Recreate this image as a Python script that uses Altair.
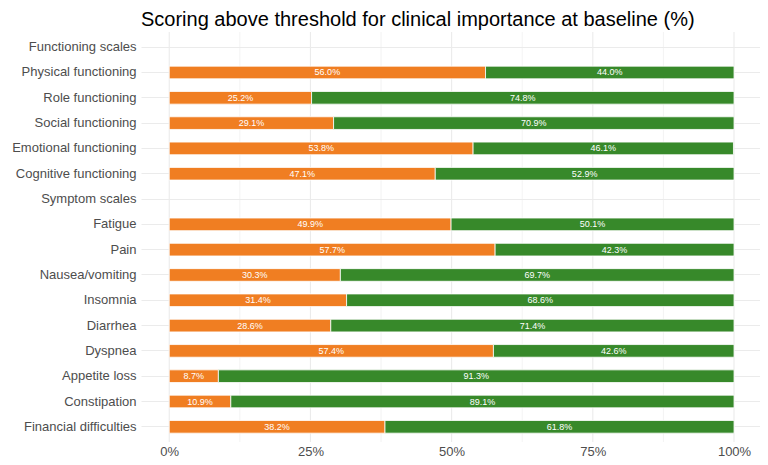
import altair as alt
import pandas as pd

categories = [
    "Functioning scales", "Physical functioning", "Role functioning", "Social functioning",
    "Emotional functioning", "Cognitive functioning", "Symptom scales", "Fatigue", "Pain",
    "Nausea/vomiting", "Insomnia", "Diarrhea", "Dyspnea", "Appetite loss", "Constipation",
    "Financial difficulties",
]
above = [None, 56.0, 25.2, 29.1, 53.8, 47.1, None, 49.9, 57.7, 30.3, 31.4, 28.6, 57.4, 8.7, 10.9, 38.2]
below = [None, 44.0, 74.8, 70.9, 46.1, 52.9, None, 50.1, 42.3, 69.7, 68.6, 71.4, 42.6, 91.3, 89.1, 61.8]
groups = ["Above", "Below"]
colors = ["#F07E22", "#37892A"]
major_ticks = [0, 25, 50, 75, 100]
minor_ticks = [12.5, 37.5, 62.5, 87.5]

rows = []
for c, a, b in zip(categories, above, below):
    if a is None:
        continue
    rows.append({"cat": c, "grp": groups[0], "start": 0.0, "end": a, "val": a})
    rows.append({"cat": c, "grp": groups[1], "start": a, "end": a + b, "val": b})
df = pd.DataFrame(rows)
df["mid"] = (df["start"] + df["end"]) / 2
df["label"] = df["val"].map(lambda v: f"{v:.1f}%")

FONT = "Liberation Sans"

xscale = alt.Scale(domain=[-5, 104.6], nice=False, zero=False)
yscale = alt.Scale(domain=categories, paddingInner=0.5, paddingOuter=0.35)

yaxis = alt.Axis(title=None, grid=True, gridColor="#EBEBEB", gridWidth=1, bandPosition=0.5,
                 ticks=False, domain=False, labelFontSize=13, labelColor="#4D4D4D",
                 labelFont=FONT, labelPadding=5)
xaxis = alt.Axis(title=None, values=major_ticks, labelExpr="datum.value + '%'", grid=False,
                 ticks=False, domain=False, labelFontSize=13, labelColor="#4D4D4D",
                 labelFont=FONT, labelPadding=3)

minor = alt.Chart(pd.DataFrame({"v": minor_ticks})).mark_rule(color="#EBEBEB", strokeWidth=0.6).encode(
    x=alt.X("v:Q", scale=xscale, axis=xaxis)
)
major = alt.Chart(pd.DataFrame({"v": major_ticks})).mark_rule(color="#EBEBEB", strokeWidth=1.1).encode(
    x=alt.X("v:Q", scale=xscale, axis=xaxis)
)

bars = alt.Chart(df).mark_bar(stroke="white", strokeWidth=0.8).encode(
    y=alt.Y("cat:N", scale=yscale, axis=yaxis, sort=categories),
    x=alt.X("start:Q", scale=xscale, axis=xaxis),
    x2="end:Q",
    color=alt.Color("grp:N", scale=alt.Scale(domain=groups, range=colors), legend=None),
)

texts = alt.Chart(df).mark_text(color="white", fontSize=9, font=FONT).encode(
    y=alt.Y("cat:N", scale=yscale, axis=yaxis, sort=categories),
    x=alt.X("mid:Q", scale=xscale, axis=xaxis),
    text="label:N",
)

chart = alt.layer(minor, major, bars, texts).properties(
    width=619,
    height=410,
    title=alt.TitleParams(
        "Scoring above threshold for clinical importance at baseline (%)",
        anchor="start", frame="group", fontSize=20, font=FONT, fontWeight="normal",
        color="#000000", offset=1,
    ),
    autosize=alt.AutoSizeParams(type="none"),
    padding={"left": 133, "top": 24, "right": 0, "bottom": 15},
).configure_view(stroke=None)

chart.save("out.html", embed_options={"renderer": "svg", "actions": False})
